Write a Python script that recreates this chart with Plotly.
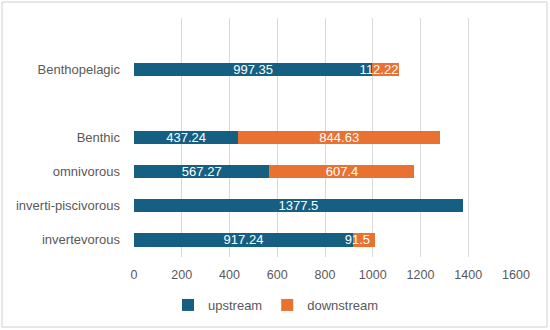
import plotly.graph_objects as go

categories = ["invertevorous", "inverti-piscivorous", "omnivorous", "Benthic", " ", "Benthopelagic", "  "]
upstream = [917.24, 1377.5, 567.27, 437.24, None, 997.35, None]
downstream = [91.5, 0, 607.4, 844.63, None, 112.22, None]
x_ticks = [0, 200, 400, 600, 800, 1000, 1200, 1400, 1600]

BLUE = "#156082"
ORANGE = "#E97132"
FONT = "Liberation Sans, Arial, sans-serif"

def labels(vals, pad_small=False):
    out = []
    for v in vals:
        if v is None:
            out.append("")
        elif pad_small and 0 < v < 150:
            out.append(f"{v:g}\u2003")  # nudge label left like Excel does for short segments
        else:
            out.append(f"{v:g}")
    return out

fig = go.Figure()
fig.add_trace(go.Bar(
    y=categories, x=upstream, name="upstream", orientation="h",
    marker=dict(color=BLUE, line=dict(width=0)),
    text=labels(upstream), textposition="inside", insidetextanchor="middle",
    textangle=0, constraintext="none", cliponaxis=False,
    textfont=dict(color="white", size=13, family=FONT),
))
fig.add_trace(go.Bar(
    y=categories, x=downstream, name="downstream", orientation="h",
    marker=dict(color=ORANGE, line=dict(width=0)),
    text=labels(downstream, pad_small=True), textposition="inside", insidetextanchor="middle",
    textangle=0, constraintext="none", cliponaxis=False,
    textfont=dict(color="white", size=13, family=FONT),
))

L, R, T, B = 134, 34, 18, 73
W, H = 550, 330
pw, ph = W - L - R, H - T - B

fig.update_layout(
    width=W, height=H,
    barmode="stack", bargap=0.61,
    margin=dict(l=L, r=R, t=T, b=B, autoexpand=False),
    paper_bgcolor="white", plot_bgcolor="white",
    font=dict(family=FONT, size=13, color="#595959"),
    showlegend=True,
    legend=dict(orientation="h", x=(276 - L) / pw, xanchor="center",
                y=(H - B - 305) / ph, yanchor="middle",
                font=dict(size=13, color="#595959"),
                traceorder="normal", itemwidth=30),
    xaxis=dict(range=[0, 1600], tickvals=x_ticks, ticktext=[str(t) for t in x_ticks],
               showgrid=True, gridcolor="#d9d9d9", gridwidth=1,
               zeroline=False, showline=False, ticks="", automargin=False,
               tickfont=dict(size=12.5, color="#595959"), ticklabelstandoff=8),
    yaxis=dict(categoryorder="array", categoryarray=categories,
               showgrid=False, zeroline=False, showline=False, ticks="", automargin=False,
               tickfont=dict(size=13, color="#595959"), ticklabelstandoff=13),
    shapes=[dict(type="rect", xref="paper", yref="paper",
                 x0=(2 - L) / pw, x1=(W - 3 - L) / pw,
                 y0=(H - B - (H - 3)) / ph, y1=(H - B - 2) / ph,
                 line=dict(color="#d0d0d0", width=1), fillcolor="rgba(0,0,0,0)",
                 layer="above")],
)

fig.write_html("out.html", config={"displayModeBar": False},
               post_script="document.body.style.margin='0';document.body.style.overflow='hidden';")
